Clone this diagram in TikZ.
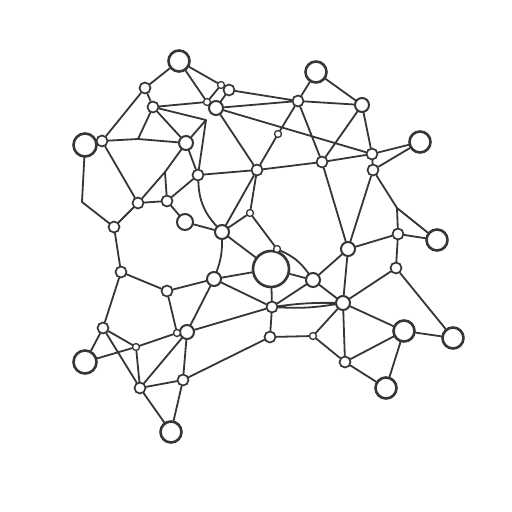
\documentclass[tikz,border=0pt]{standalone}
\usetikzlibrary{backgrounds}
\definecolor{ink}{HTML}{363636}
\tikzset{
  nd/.style={circle,draw=ink,fill=white,inner sep=0pt},
  huge/.style={nd,minimum size=36pt,line width=2.6pt},
  big/.style={nd,minimum size=21pt,line width=2.6pt},
  med/.style={nd,minimum size=14pt,line width=2pt},
  sm/.style={nd,minimum size=11pt,line width=1.7pt},
  tiny/.style={nd,minimum size=7pt,line width=1.3pt},
  ed/.style={draw=ink,line width=1.8pt,line cap=round,line join=round},
  thin/.style={draw=ink,line width=0.8pt}
}
\begin{document}
\begin{tikzpicture}[x=1pt,y=-1pt]
\useasboundingbox (0,0) rectangle (512,512);
\node[big]  (n1)  at (179,61) {};
\node[sm]   (n2)  at (145,88) {};
\node[sm]   (n3)  at (153,107) {};
\node[tiny] (n4)  at (221,85) {};
\node[sm]   (n5)  at (229,90) {};
\node[tiny] (n6)  at (207,102) {};
\node[med]  (n7)  at (216,108) {};
\node[big,minimum size=23pt] (n8) at (85,145) {};
\node[sm]   (n9)  at (102,141) {};
\node[med]  (n10) at (186,143) {};
\node[sm]   (n11) at (198,175) {};
\node[sm]   (n12) at (257,170) {};
\node[sm]   (n13) at (138,203) {};
\node[sm]   (n14) at (167,201) {};
\node[med,minimum size=16pt] (n15) at (185,222) {};
\node[med]  (n16) at (222,232) {};
\node[sm]   (n17) at (114,227) {};
\node[sm]   (n18) at (298,101) {};
\node[big]  (n19) at (316,72) {};
\node[med]  (n20) at (362,105) {};
\node[big]  (n21) at (420,142) {};
\node[sm]   (n22) at (372,154) {};
\node[sm]   (n23) at (373,170) {};
\node[sm]   (n24) at (322,162) {};
\node[tiny] (n25) at (278,134) {};
\node[tiny] (n26) at (250,213) {};
\node[huge] (n27) at (271,269) {};
\node[tiny] (n28) at (277,249) {};
\node[med]  (n29) at (348,249) {};
\node[sm]   (n30) at (398,234) {};
\node[big]  (n31) at (437,240) {};
\node[sm]   (n32) at (396,268) {};
\node[med]  (n33) at (313,280) {};
\node[med]  (n34) at (343,303) {};
\node[sm]   (n35) at (272,307) {};
\node[sm]   (n36) at (270,337) {};
\node[tiny] (n37) at (313,336) {};
\node[big]  (n38) at (404,331) {};
\node[big]  (n39) at (453,338) {};
\node[sm]   (n40) at (345,362) {};
\node[big]  (n41) at (386,388) {};
\node[sm]   (n42) at (121,272) {};
\node[sm]   (n43) at (167,291) {};
\node[med]  (n44) at (214,279) {};
\node[med]  (n45) at (187,332) {};
\node[tiny] (n46) at (177,333) {};
\node[sm]   (n47) at (103,328) {};
\node[tiny] (n48) at (136,347) {};
\node[big,minimum size=23pt] (n49) at (85,362) {};
\node[sm]   (n50) at (140,388) {};
\node[sm]   (n51) at (183,380) {};
\node[big]  (n52) at (171,432) {};
\coordinate (J)  at (206,120);
\coordinate (j2) at (138,139);
\coordinate (j3) at (397,208);
\coordinate (j4) at (82,202);
\coordinate (j6) at (165,172);
\begin{scope}[on background layer]
\fill[white] (0,0) rectangle (512,512);
\path[ed] (n1)--(n2) (n1)--(n4) (n1)--(n6) (n2)--(n3) (n2)--(n9)
  (n3)--(n6) (n3)--(J) (n3)--(n10) (n3)--(j2) (n9)--(j2)--(n10)
  (n4)--(n5) (n4)--(n6) (n5)--(n7) (n6)--(n7) (n5)--(n18) (n7)--(n18)
  (n7)--(n22) (n7)--(n12) (J)--(n10) (J)--(n11) (n8)--(n9) (n8)--(j4)--(n17)
  (n9)--(n13) (n10)--(j6)--(n13) (j6)--(n14) (n10)--(n11) (n13)--(n14)
  (n13)--(n17) (n11)--(n14) (n11)--(n12) (n11) to[bend right=20] (n16)
  (n14)--(n15) (n15)--(n16) (n12)--(n16) (n12)--(n26) (n26)--(n16)
  (n26)--(n28) (n12)--(n24) (n12)--(n25) (n25)--(n18) (n18)--(n19)
  (n18)--(n20) (n19)--(n20) (n18)--(n24) (n20)--(n24) (n20)--(n22)
  (n24)--(n22) (n22)--(n21) (n23)--(n21) (n22)--(n23) (n24)--(n29)
  (n23)--(n29) (n23)--(j3) (j3)--(n30) (j3)--(n31) (n30)--(n31)
  (n29)--(n30) (n30)--(n32) (n32)--(n34) (n32)--(n39) (n29)--(n34)
  (n29)--(n33) (n33)--(n27) (n28) to[bend left=15] (n33) (n28)--(n27)
  (n16)--(n27) (n16) to[bend left=10] (n44) (n44)--(n27) (n33)--(n35)
  (n33)--(n34) (n35) to[bend left=4] (n34) (n35) to[bend right=6] (n34)
  (n35)--(n36) (n36)--(n37) (n34)--(n37) (n34)--(n40) (n34)--(n38)
  (n38)--(n39) (n38)--(n40) (n38)--(n41) (n40)--(n41) (n37)--(n40)
  (n44)--(n35) (n45)--(n35) (n36)--(n51) (n17)--(n42) (n42)--(n43)
  (n43)--(n44) (n43)--(n46) (n42)--(n47) (n47)--(n49) (n47)--(n48)
  (n48)--(n46) (n49)--(n48) (n46)--(n45) (n47)--(n50) (n48)--(n50)
  (n50)--(n45) (n50)--(n51) (n50)--(n52) (n51)--(n52) (n51)--(n45)
  (n45)--(n44) (n27)--(n35);
\path[thin] (n33)--(n34);
\end{scope}
\end{tikzpicture}
\end{document}
